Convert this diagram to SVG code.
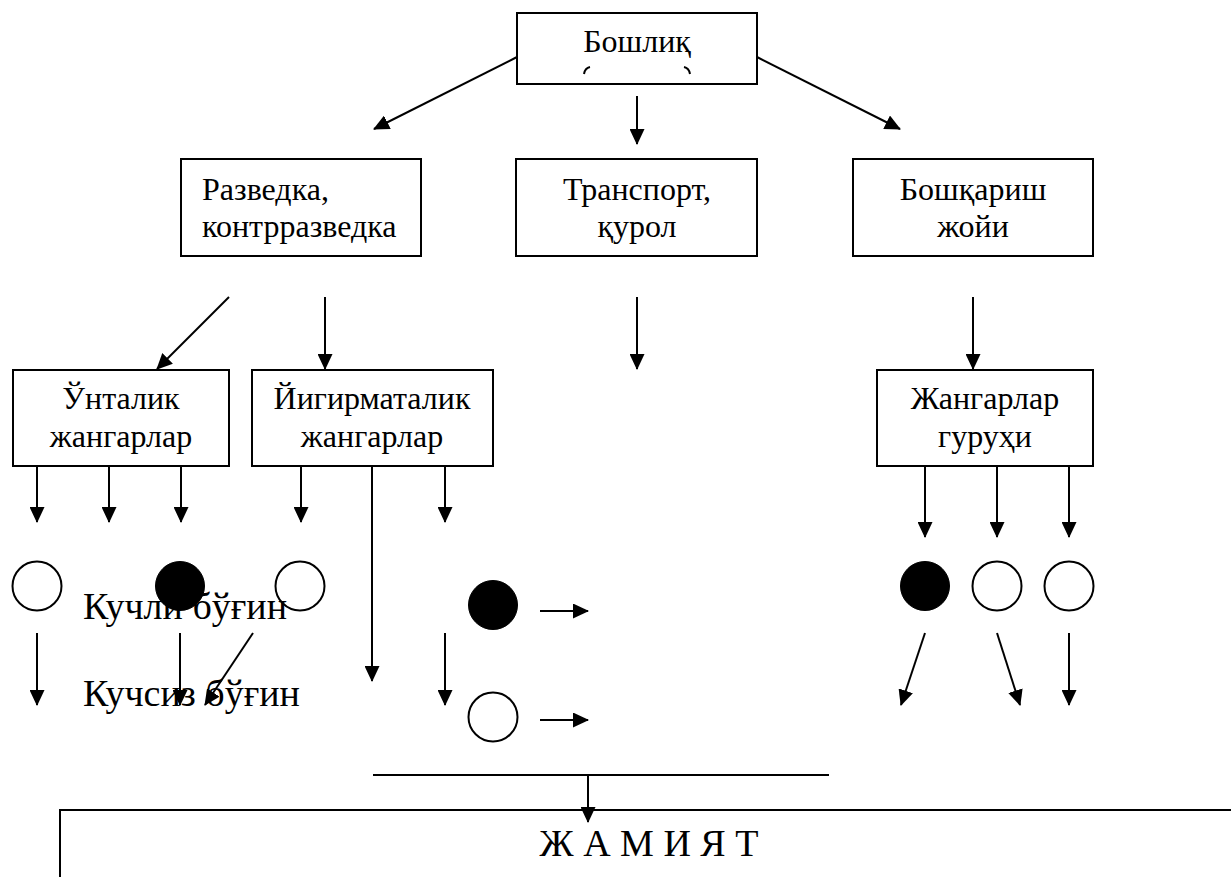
<svg xmlns="http://www.w3.org/2000/svg" width="1231" height="877" viewBox="0 0 1231 877">
<style>
.box{fill:#fff;stroke:#000;stroke-width:2}
.t{font-family:"Liberation Serif","Times New Roman",serif;font-size:32px;fill:#000}
.m{text-anchor:middle}
.big{font-size:38px}
.c{stroke:#000;stroke-width:2;fill:none}
.ln{stroke:#000;stroke-width:2;fill:none;marker-end:url(#ah)}
.open{fill:none;stroke:#000;stroke-width:2}
.full{fill:#000;stroke:#000;stroke-width:1}
</style>
<defs>
<marker id="ah" markerWidth="16" markerHeight="15" refX="15" refY="7.5" orient="auto" markerUnits="userSpaceOnUse">
<path d="M0,0 L16,7.5 L0,15 z" fill="#000"/>
</marker>
</defs>
<rect width="1231" height="877" fill="#fff"/>

<g id="connectors">
<line class="ln" x1="517" y1="57" x2="374" y2="129"/>
<line class="ln" x1="637" y1="96" x2="637" y2="144"/>
<line class="ln" x1="757" y1="57" x2="900" y2="129"/>
<line class="ln" x1="229" y1="297" x2="157" y2="369"/>
<line class="ln" x1="325" y1="297" x2="325" y2="369"/>
<line class="ln" x1="637" y1="297" x2="637" y2="369"/>
<line class="ln" x1="973" y1="297" x2="973" y2="369"/>
<line class="ln" x1="37" y1="466" x2="37" y2="522"/>
<line class="ln" x1="109" y1="466" x2="109" y2="522"/>
<line class="ln" x1="181" y1="466" x2="181" y2="522"/>
<line class="ln" x1="301" y1="466" x2="301" y2="522"/>
<line class="ln" x1="372" y1="466" x2="372" y2="681"/>
<line class="ln" x1="445" y1="466" x2="445" y2="522"/>
<line class="ln" x1="925" y1="466" x2="925" y2="537"/>
<line class="ln" x1="997" y1="466" x2="997" y2="537"/>
<line class="ln" x1="1069" y1="466" x2="1069" y2="537"/>
<line class="ln" x1="37" y1="633" x2="37" y2="705"/>
<line class="ln" x1="180" y1="633" x2="180" y2="705"/>
<line class="ln" x1="253" y1="633" x2="205" y2="705"/>
<line class="ln" x1="445" y1="633" x2="445" y2="705"/>
<line class="ln" x1="540" y1="611" x2="588" y2="611"/>
<line class="ln" x1="540" y1="720" x2="588" y2="720"/>
<line class="ln" x1="925" y1="633" x2="901" y2="705"/>
<line class="ln" x1="997" y1="633" x2="1020" y2="705"/>
<line class="ln" x1="1069" y1="633" x2="1069" y2="705"/>
<line class="c" x1="373" y1="775" x2="829" y2="775"/>
</g>

<g id="n-boshliq">
<rect class="box" x="517" y="13" width="240" height="71"/>
<text class="t m" x="637" y="52">Бошлиқ</text>
<path class="c" d="M584,74 Q585,68 590,67 M684,67 Q689,68 690,74" stroke-width="1.5"/>
</g>

<g id="n-razvedka">
<rect class="box" x="181" y="159" width="240" height="97"/>
<text class="t" x="202" y="200">Разведка,</text>
<text class="t" x="202" y="237">контрразведка</text>
</g>

<g id="n-transport">
<rect class="box" x="516" y="159" width="241" height="97"/>
<text class="t m" x="637" y="200">Транспорт,</text>
<text class="t m" x="637" y="237">қурол</text>
</g>

<g id="n-boshqarish">
<rect class="box" x="853" y="159" width="240" height="97"/>
<text class="t m" x="973" y="200">Бошқариш</text>
<text class="t m" x="973" y="237">жойи</text>
</g>

<g id="n-untalik">
<rect class="box" x="13" y="370" width="216" height="96"/>
<text class="t m" x="121" y="409">Ўнталик</text>
<text class="t m" x="121" y="447">жангарлар</text>
</g>

<g id="n-yigirmatalik">
<rect class="box" x="252" y="370" width="241" height="96"/>
<text class="t m" x="372" y="409">Йигирматалик</text>
<text class="t m" x="372" y="447">жангарлар</text>
</g>

<g id="n-jangarlar">
<rect class="box" x="877" y="370" width="216" height="96"/>
<text class="t m" x="985" y="409">Жангарлар</text>
<text class="t m" x="985" y="447">гуруҳи</text>
</g>

<g id="n-circles-left">
<circle class="open" cx="37" cy="586" r="24.5"/>
<circle class="full" cx="180" cy="586" r="24.5"/>
<circle class="open" cx="300" cy="586" r="24.5"/>
</g>

<g id="n-circles-mid">
<circle class="full" cx="493" cy="605" r="24.5"/>
<circle class="open" cx="493" cy="717" r="24.5"/>
</g>

<g id="n-circles-right">
<circle class="full" cx="925" cy="586" r="24.5"/>
<circle class="open" cx="997" cy="586" r="24.5"/>
<circle class="open" cx="1069" cy="586" r="24.5"/>
</g>

<g id="n-legend">
<text class="t big" x="83" y="619">Кучли бўғин</text>
<text class="t big" x="83" y="706">Кучсиз бўғин</text>
</g>

<g id="n-jamiyat">
<rect class="box" x="60" y="810" width="1200" height="100"/>
<text class="t big m" x="649" y="856">Ж А М И Я Т</text>
</g>

<g id="connector-jamiyat">
<line class="ln" x1="588" y1="775" x2="588" y2="822"/>
</g>
</svg>
